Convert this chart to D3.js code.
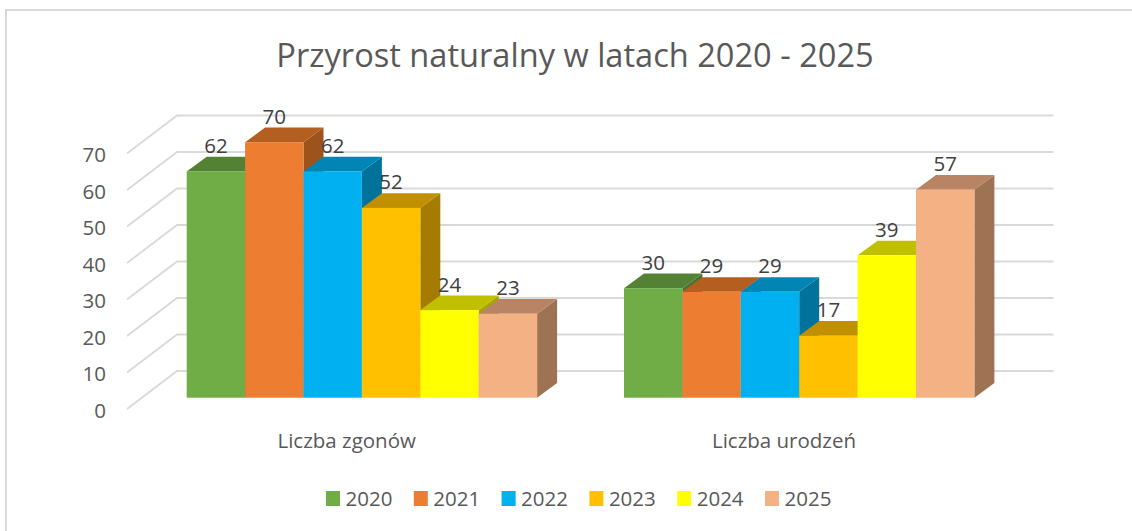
<!DOCTYPE html>
<html>
<head>
<meta charset="utf-8">
<script src="https://cdn.jsdelivr.net/npm/d3@7"></script>
<style>
  html, body { margin: 0; padding: 0; background: #fff; }
  svg { display: block; }
  text { font-family: "Open Sans", sans-serif; }
</style>
</head>
<body>
<div id="chart"></div>
<script>
const categories = ["Liczba zgonów", "Liczba urodzeń"];
const years = ["2020", "2021", "2022", "2023", "2024", "2025"];
const zgony = [62, 70, 62, 52, 24, 23];
const urodzenia = [30, 29, 29, 17, 39, 57];
const ticks = [0, 10, 20, 30, 40, 50, 60, 70];
const frontColors = ["#70AD47", "#ED7D31", "#00B0F0", "#FFC000", "#FFFF00", "#F4B183"];
const topColors = ["#548235", "#B45F20", "#0085B5", "#C09000", "#C0C000", "#B88463"];
const sideColors = ["#4A7230", "#9E531C", "#00729B", "#A67C00", "#A6A600", "#9E7354"];

drawChart();

function drawChart() {
  const width = 1132;
  const height = 531;
  const svg = d3.select("#chart").append("svg")
    .attr("width", width)
    .attr("height", height);

  // chart frame, only top and left are inside the picture
  svg.append("path")
    .attr("d", "M6,531V10H1132")
    .attr("fill", "none")
    .attr("stroke", "#d9d9d9")
    .attr("stroke-width", 2);

  svg.append("text")
    .attr("x", 575).attr("y", 67)
    .attr("text-anchor", "middle")
    .style("font-size", "32.6px")
    .attr("fill", "#595959")
    .text("Przyrost naturalny w latach 2020 - 2025");

  // value scale, same height for front edge, back wall and bars
  const span = 255.5;
  const yFront = d3.scaleLinear().domain([0, 70]).range([409, 409 - span]);
  const yBack = d3.scaleLinear().domain([0, 70]).range([371, 371 - span]);
  const yBar = d3.scaleLinear().domain([0, 70]).range([397.7, 397.7 - span]);

  const wallLeft = 177;
  const wallRight = 1053.5;
  const frontLeft = 127;

  // gridlines and the slanted bit on the left wall
  svg.append("g").selectAll("path")
    .data(ticks)
    .join("path")
    .attr("d", (d) => `M${frontLeft},${yFront(d)}L${wallLeft},${yBack(d)}L${wallRight},${yBack(d)}`)
    .attr("fill", "none")
    .attr("stroke", "#d9d9d9")
    .attr("stroke-width", 1.8);

  // axis labels
  const yAxis = d3.axisLeft(yFront).tickValues(ticks).tickSize(0).tickPadding(0);
  const yG = svg.append("g")
    .attr("transform", "translate(106,1.5)")
    .call(yAxis);
  yG.select(".domain").remove();
  yG.selectAll("text")
    .style("font-family", '"Open Sans", sans-serif')
    .style("font-size", "20.5px")
    .attr("fill", "#595959");

  // groups are placed so the bars start where the picture has them
  const xGroup = d3.scaleOrdinal().domain(categories).range([186.7, 624]);
  const xBar = d3.scaleBand().domain(years).range([0, 350.4]);

  const depthX = 20;
  const depthY = 14.7;
  const base = yBar(0);

  categories.forEach((cat, c) => {
    const values = c === 0 ? zgony : urodzenia;
    const g = svg.append("g").attr("transform", `translate(${xGroup(cat)},0)`);
    const w = xBar.bandwidth();

    const bars = g.selectAll("g.bar")
      .data(values)
      .join("g")
      .attr("class", "bar");

    // side face
    bars.append("path")
      .attr("d", (d, i) => {
        const r = xBar(years[i]) + w;
        return `M${r},${yBar(d)}L${r + depthX},${yBar(d) - depthY}L${r + depthX},${base - depthY}L${r},${base}Z`;
      })
      .attr("fill", (d, i) => sideColors[i]);

    // top face
    bars.append("path")
      .attr("d", (d, i) => {
        const l = xBar(years[i]);
        return `M${l},${yBar(d)}L${l + depthX},${yBar(d) - depthY}L${l + w + depthX},${yBar(d) - depthY}L${l + w},${yBar(d)}Z`;
      })
      .attr("fill", (d, i) => topColors[i]);

    // front face
    bars.append("rect")
      .attr("x", (d, i) => xBar(years[i]))
      .attr("y", (d) => yBar(d))
      .attr("width", w)
      .attr("height", (d) => base - yBar(d))
      .attr("fill", (d, i) => frontColors[i]);

    // value labels go on top of all the bars
    g.selectAll("text.val")
      .data(values)
      .join("text")
      .attr("class", "val")
      .attr("x", (d, i) => xBar(years[i]) + w / 2)
      .attr("y", (d) => yBar(d) - 18.5)
      .attr("text-anchor", "middle")
      .style("font-size", "20.5px")
      .attr("fill", "#404040")
      .text((d) => d);

    svg.append("text")
      .attr("x", xGroup(cat) + 160)
      .attr("y", 448)
      .attr("text-anchor", "middle")
      .style("font-size", "20.5px")
      .attr("fill", "#595959")
      .text(cat);
  });

  // legend
  const xLegend = d3.scalePoint().domain(years).range([326, 765]);
  const legend = svg.append("g").selectAll("g")
    .data(years)
    .join("g")
    .attr("transform", (d) => `translate(${xLegend(d)},491)`);
  legend.append("rect")
    .attr("width", 14).attr("height", 15)
    .attr("fill", (d, i) => frontColors[i]);
  legend.append("text")
    .attr("x", 19.5).attr("y", 15)
    .style("font-size", "20.5px")
    .attr("fill", "#595959")
    .text((d) => d);
}
</script>
</body>
</html>
